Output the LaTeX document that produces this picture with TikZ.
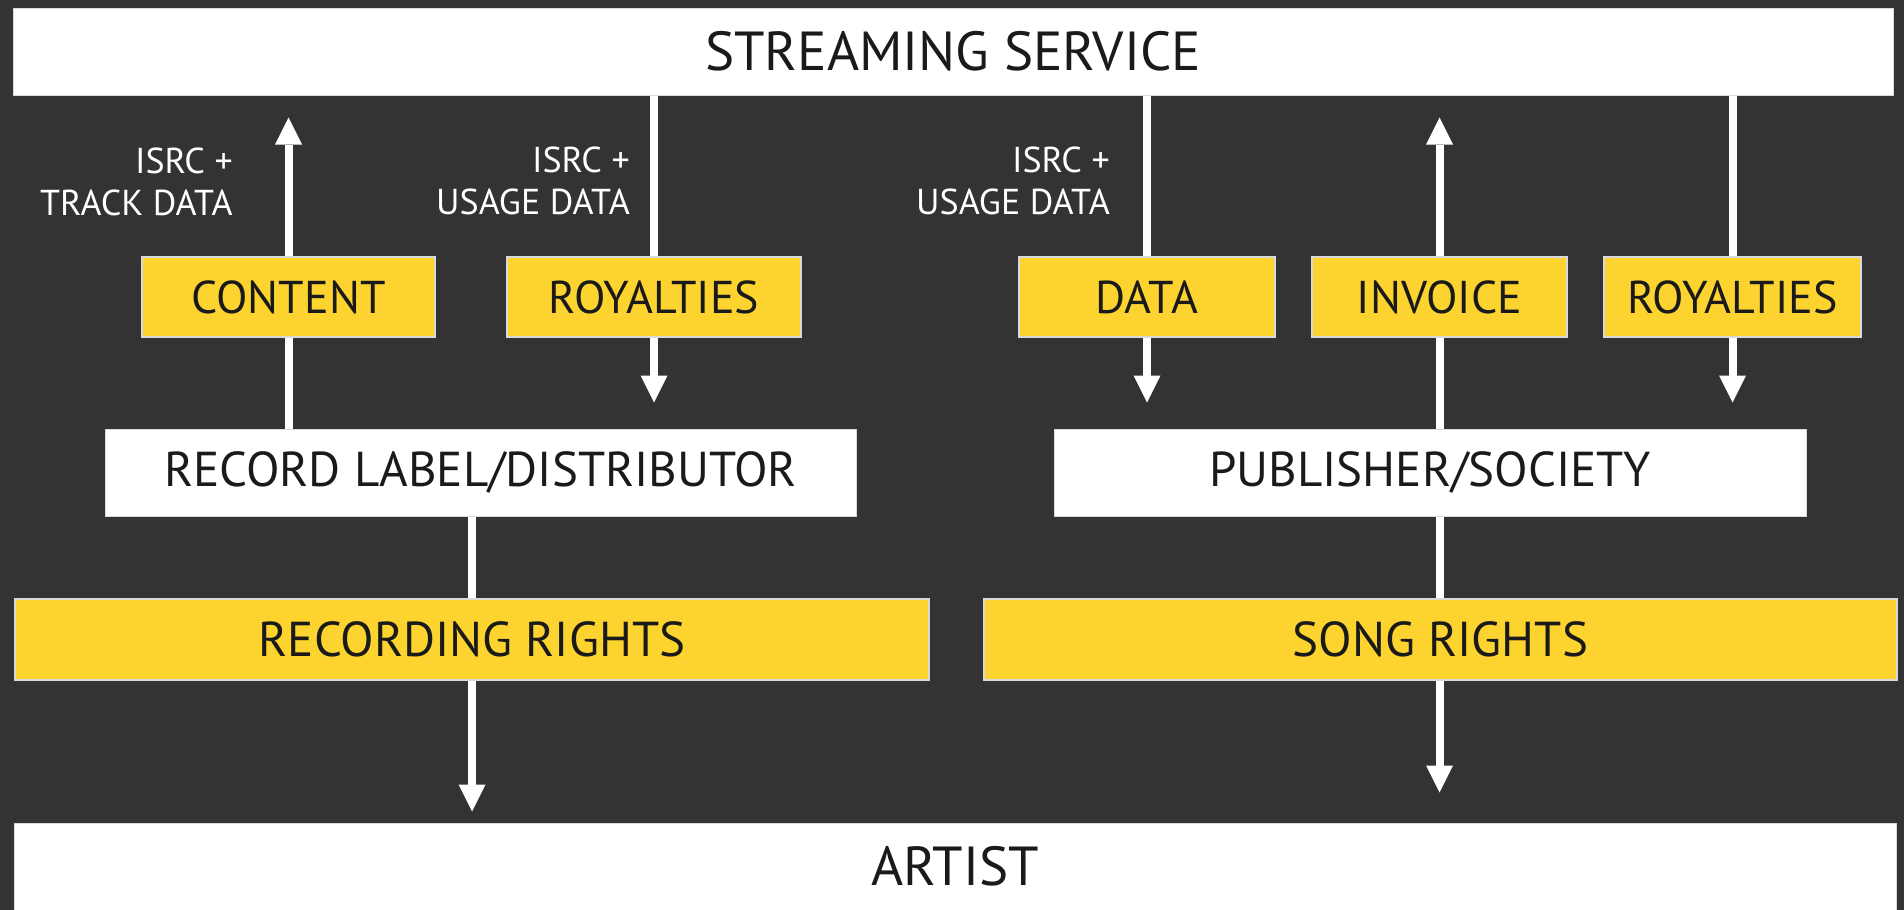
\documentclass[tikz,border=0pt]{standalone}
\usepackage{fontspec}
\setmainfont{PT Sans}
\usepackage{tikz}
\usetikzlibrary{arrows.meta}
\definecolor{slate}{HTML}{333333}
\definecolor{sun}{HTML}{FDD42F}
\definecolor{ink}{HTML}{1A1A1A}
\pgfdeclarelayer{back}
\pgfdeclarelayer{wires}
\pgfsetlayers{back,wires,main}
\tikzset{panel/.style={fill=white, draw=black!15, line width=1pt, text=ink, inner sep=0, minimum height=87pt, font=\fontsize{49}{56}\selectfont}}
\tikzset{tag box/.style={fill=sun, draw=white!85!black, line width=2pt, text=ink, inner sep=0, minimum height=80pt, font=\fontsize{46}{52}\selectfont}}
\tikzset{band/.style={tag box, minimum height=81pt, font=\fontsize{49}{56}\selectfont}}
\tikzset{note/.style={text=white, align=right, inner sep=0, anchor=east, font=\fontsize{36}{42}\selectfont}}
\tikzset{flow/.style={draw=white, line width=8pt, -{Triangle[length=27pt, width=27pt, line width=0pt]}}}

\begin{document}
\begin{tikzpicture}[x=1pt, y=-1pt]
  \useasboundingbox (0, 0) rectangle (1904, 910);
  \begin{pgfonlayer}{back}
    \fill[slate] (0, 0) rectangle (1904, 910);
  \end{pgfonlayer}

  \node[panel, minimum width=1880pt, font=\fontsize{55}{62}\selectfont] at (953, 51.5) (stream) {STREAMING SERVICE};

  % recording side
  \node[tag box, minimum width=293pt] at (288.5, 297) (content) {CONTENT};
  \node[tag box, minimum width=294pt] at (654, 297) (royleft) {ROYALTIES};
  \node[panel, minimum width=751pt] at (480.5, 472.5) (label) {RECORD LABEL/DISTRIBUTOR};
  \node[band, minimum width=914pt] at (472, 639.5) (recrights) {RECORDING RIGHTS};
  \node[note] at (233, 182) (trackinfo) {ISRC +\\TRACK DATA};
  \node[note] at (630, 181) (usageleft) {ISRC +\\USAGE DATA};

  % song side
  \node[tag box, minimum width=256pt] at (1147, 297) (data) {DATA};
  \node[tag box, minimum width=255pt] at (1439.5, 297) (invoice) {INVOICE};
  \node[tag box, minimum width=257pt] at (1732.5, 297) (royright) {ROYALTIES};
  \node[panel, minimum width=752pt] at (1430, 472.5) (publisher) {PUBLISHER/SOCIETY};
  \node[band, minimum width=913pt] at (1440.5, 639.5) (songrights) {SONG RIGHTS};
  \node[note] at (1110, 181) (usageright) {ISRC +\\USAGE DATA};

  \node[panel, minimum width=1882pt, font=\fontsize{55}{62}\selectfont] at (955, 866.5) (artist) {ARTIST};

  \begin{pgfonlayer}{wires}
    \draw[flow, shorten >=22pt] (content.center |- label.north) -- (content.center |- stream.south);
    \draw[flow, shorten >=26pt] (royleft.center |- stream.south) -- (royleft.center |- label.north);
    \draw[flow, shorten >=26pt] (data.center |- stream.south) -- (data.center |- publisher.north);
    \draw[flow, shorten >=22pt] (invoice.center |- publisher.north) -- (invoice.center |- stream.south);
    \draw[flow, shorten >=26pt] (royright.center |- stream.south) -- (royright.center |- publisher.north);
    \draw[flow, shorten >=11pt] (recrights.center |- label.south) -- (recrights.center |- artist.north);
    \draw[flow, shorten >=30pt] (invoice.center |- publisher.south) -- (invoice.center |- artist.north);
  \end{pgfonlayer}
\end{tikzpicture}
\end{document}
